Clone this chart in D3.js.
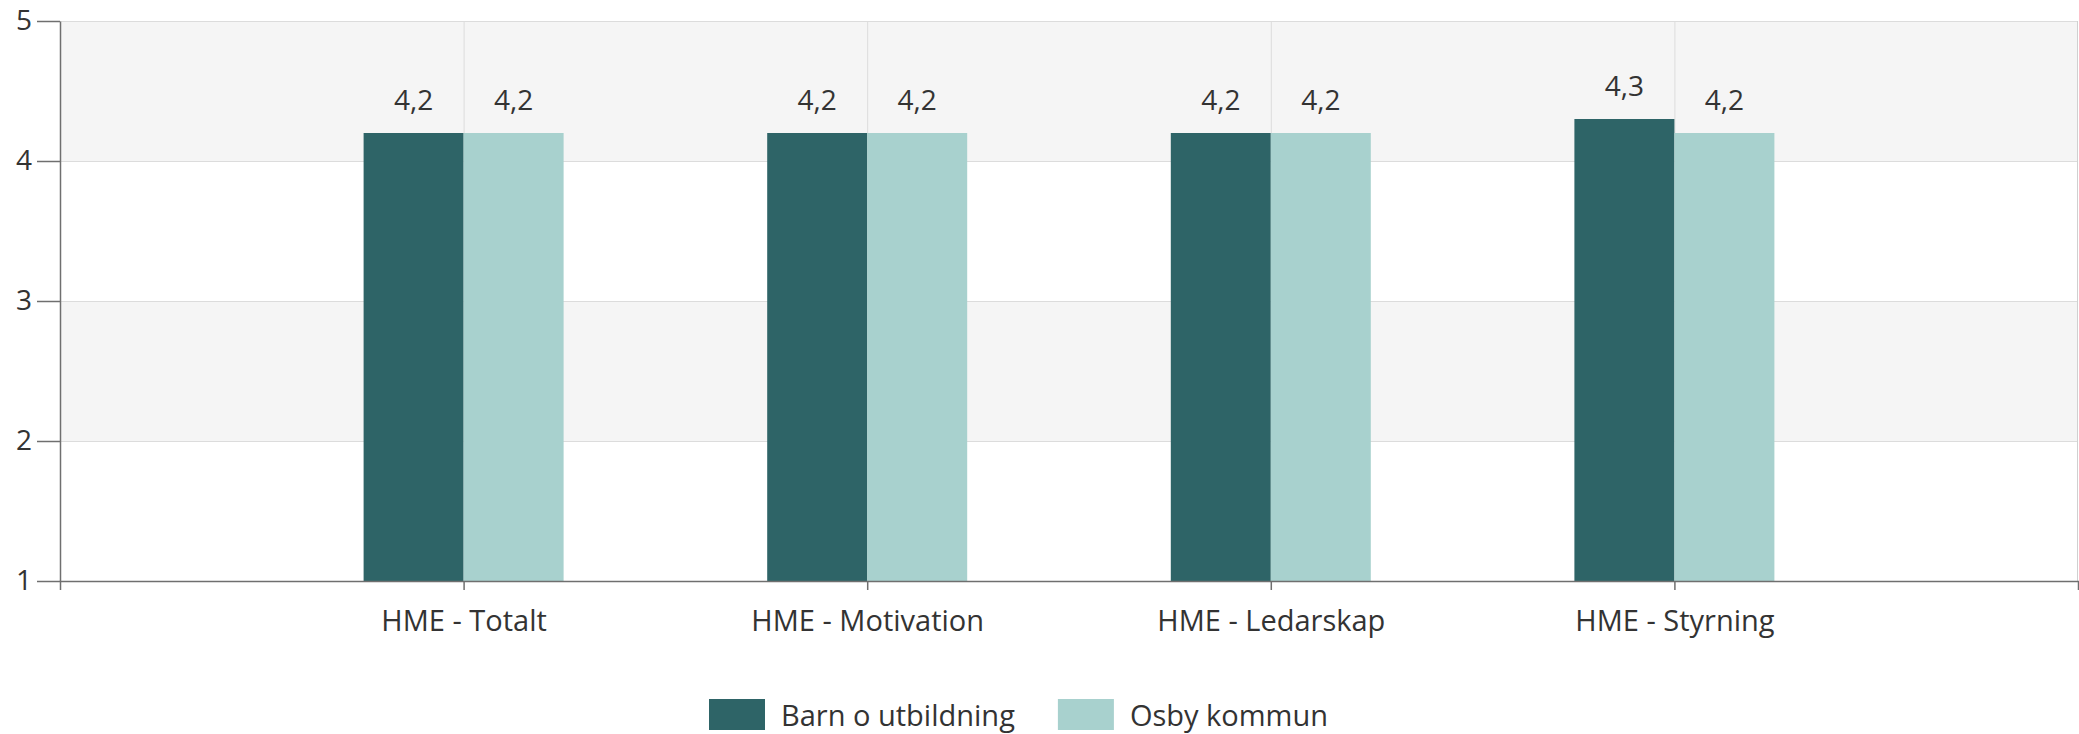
<!DOCTYPE html>
<html>
<head>
<meta charset="utf-8">
<script src="https://cdn.jsdelivr.net/npm/d3@7"></script>
<style>
  body { margin: 0; background: #fff; }
  svg text { font-family: "Open Sans", sans-serif; fill: #333; }
</style>
</head>
<body>
<div id="chart"></div>
<script>
var categories = ["HME - Totalt", "HME - Motivation", "HME - Ledarskap", "HME - Styrning"];
var seriesNames = ["Barn o utbildning", "Osby kommun"];
var barnValues = [4.2, 4.2, 4.2, 4.3];
var osbyValues = [4.2, 4.2, 4.2, 4.2];
var yTicks = [1, 2, 3, 4, 5];
var colors = ["#2e6467", "#a8d1ce"];

var width = 2079, height = 734;
var plotLeft = 60, plotRight = 2078, plotTop = 21, plotBottom = 581;
var barWidth = 100;

var svg = d3.select("#chart").append("svg")
    .attr("width", width)
    .attr("height", height);

var xScale = d3.scalePoint().domain(categories).range([plotLeft, plotRight]).padding(1);
var yScale = d3.scaleLinear().domain([1, 5]).range([plotBottom, plotTop]);
var sub = d3.scaleBand().domain(seriesNames).range([-barWidth, barWidth]);
var color = d3.scaleOrdinal().domain(seriesNames).range(colors);
var fmt = d3.formatLocale({decimal: ",", thousands: " ", grouping: [3], currency: ["", " kr"]}).format(".1f");

var data = seriesNames.map((name, i) => ({
    name: name,
    values: categories.map((c, j) => ({cat: c, value: (i == 0 ? barnValues : osbyValues)[j]}))
}));

// alternating bands
var bands = [[4, 5], [2, 3]];
svg.append("g").selectAll("rect")
    .data(bands).enter()
    .append("rect")
    .attr("x", plotLeft)
    .attr("y", d => yScale(d[1]))
    .attr("width", plotRight - plotLeft)
    .attr("height", d => yScale(d[0]) - yScale(d[1]))
    .style("fill", "#f5f5f5");

// grid
var grid = svg.append("g").attr("class", "grid");
grid.selectAll(".hgrid")
    .data(yTicks.slice(1)).enter()
    .append("line")
    .attr("x1", plotLeft).attr("x2", plotRight)
    .attr("y1", d => yScale(d) + 0.5).attr("y2", d => yScale(d) + 0.5)
    .style("stroke", "#dcdcdc");
grid.selectAll(".vgrid")
    .data(categories).enter()
    .append("line")
    .attr("x1", d => xScale(d) + 0.5).attr("x2", d => xScale(d) + 0.5)
    .attr("y1", plotTop).attr("y2", plotBottom)
    .style("stroke", "#dcdcdc");
grid.append("line")
    .attr("x1", plotRight - 0.5).attr("x2", plotRight - 0.5)
    .attr("y1", plotTop).attr("y2", plotBottom)
    .style("stroke", "#d0d0d0");

// bars
var groups = svg.append("g").selectAll(".series")
    .data(data).enter()
    .append("g")
    .style("fill", d => color(d.name));

groups.selectAll("rect")
    .data(d => d.values.map(v => ({name: d.name, cat: v.cat, value: v.value}))).enter()
    .append("rect")
    .attr("x", d => xScale(d.cat) + sub(d.name))
    .attr("y", d => yScale(d.value))
    .attr("width", sub.bandwidth())
    .attr("height", d => yScale(1) - yScale(d.value));

groups.selectAll("text")
    .data(d => d.values.map(v => ({name: d.name, cat: v.cat, value: v.value}))).enter()
    .append("text")
    .attr("x", d => xScale(d.cat) + sub(d.name) + sub.bandwidth() / 2)
    .attr("y", d => yScale(d.value) - 23)
    .attr("text-anchor", "middle")
    .style("font-size", "28px")
    .style("fill", "#333")
    .text(d => fmt(d.value));

// axes
var xAxis = d3.axisBottom(xScale).tickSize(9).tickSizeOuter(9).tickPadding(20);
var yAxis = d3.axisLeft(yScale).tickValues(yTicks).tickSize(23).tickSizeOuter(0).tickPadding(5).tickFormat(d3.format("d"));

var gx = svg.append("g")
    .attr("transform", `translate(0, ${plotBottom})`)
    .call(xAxis);
gx.selectAll("text").style("font-size", "29px").style("fill", "#333");

var gy = svg.append("g")
    .attr("transform", `translate(${plotLeft}, 0)`)
    .call(yAxis);
gy.selectAll("text").style("font-size", "28px").style("fill", "#333");

svg.selectAll(".domain, .tick line").style("stroke", "#6f6f6f").style("stroke-width", 1.5);

// legend
var legend = svg.append("g").attr("transform", "translate(709, 699)");
var lx = 0;
seriesNames.forEach((name, i) => {
    var item = legend.append("g").attr("transform", `translate(${lx}, 0)`);
    item.append("rect")
        .attr("width", 56).attr("height", 31)
        .style("fill", color(name));
    var t = item.append("text")
        .attr("x", 72).attr("y", 27)
        .style("font-size", "29px")
        .style("fill", "#333")
        .text(name);
    lx += 72 + t.node().getComputedTextLength() + 43;
});
</script>
</body>
</html>
